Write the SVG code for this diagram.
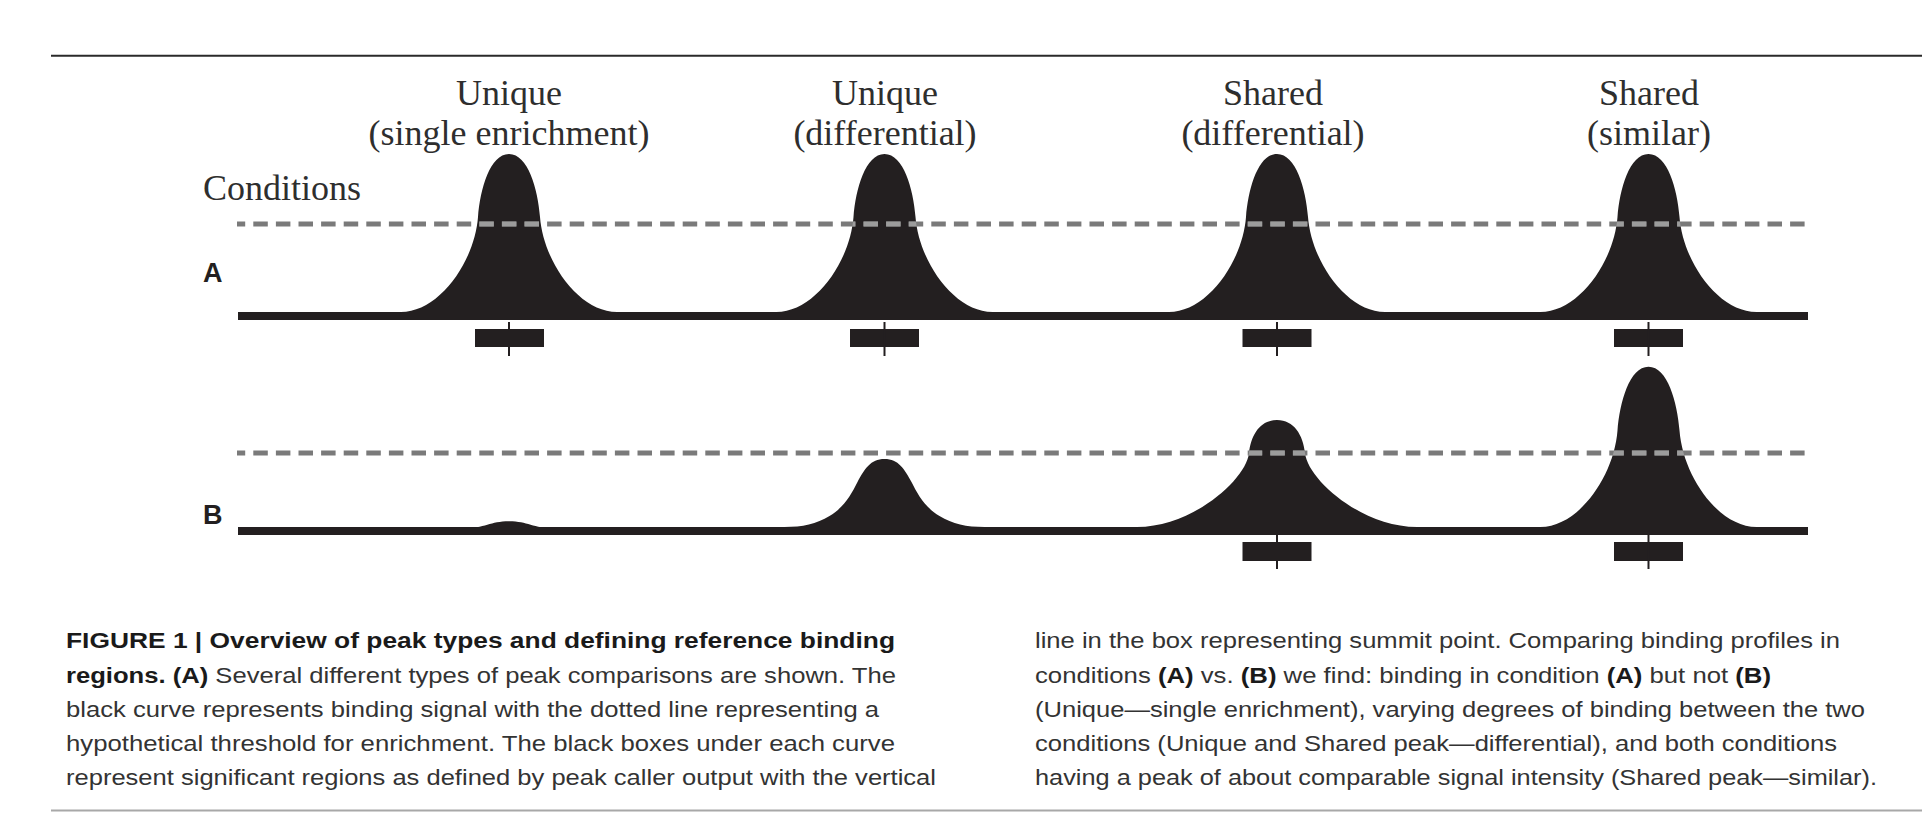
<svg xmlns="http://www.w3.org/2000/svg" width="1922" height="814" viewBox="0 0 1922 814">
<style>
.hd{font-family:"Liberation Serif","Times New Roman",serif;font-size:36px;fill:#2e2e2e;text-anchor:middle}
.cond{font-family:"Liberation Serif","Times New Roman",serif;font-size:36px;fill:#2e2e2e}
.rowlab{font-family:"Liberation Sans",Arial,sans-serif;font-weight:bold;font-size:27px;fill:#231f20}
.cap{font-family:"Liberation Sans",Arial,sans-serif;font-size:22px;fill:#333333}
.b{font-weight:bold;fill:#1a1a1a}
.pk{fill:#231f20}
.base{stroke:#231f20;stroke-width:8}
.dash{stroke:#7a7a7a;stroke-width:5;stroke-dasharray:14.5 8.1;stroke-dashoffset:6.3;fill:none}
.dashlt{stroke:#9c9c9c}
.box{fill:#231f20}
.tick{stroke:#231f20;stroke-width:2}
.rule{stroke:#2a2a2a;stroke-width:2}
.rule2{stroke:#a8a8a8;stroke-width:2}
</style>
<defs>
<path id="peak" d="M -110,4 L -108,0 C -70,0 -34.5,-50 -31,-95 C -28.8,-123 -19,-158 0,-158 C 19,-158 28.8,-123 31,-95 C 34.5,-50 70,0 108,0 L 110,4 Z"/>
<path id="peakB2" d="M -102,4 L -100,0 C -82,0 -68,-3 -55,-11 C -40,-20 -33,-33 -27,-45 C -20,-58 -14,-68 0,-68 C 14,-68 20,-58 27,-45 C 33,-33 40,-20 55,-11 C 68,-3 82,0 100,0 L 102,4 Z"/>
<path id="peakB3" d="M -142,4 L -140,0 C -85,0 -31,-47 -28,-74 C -26,-92 -17,-107 0,-107 C 17,-107 26,-92 28,-74 C 31,-47 85,0 140,0 L 142,4 Z"/>
<clipPath id="peakclip">
<use href="#peak" transform="translate(509,312)"/>
<use href="#peak" transform="translate(884.5,312)"/>
<use href="#peak" transform="translate(1277,312)"/>
<use href="#peak" transform="translate(1648.5,312)"/>
<use href="#peakB2" transform="translate(884.5,527)"/>
<use href="#peakB3" transform="translate(1277,527)"/>
<use href="#peak" transform="translate(1648.5,527) scale(1,1.015)"/>
</clipPath>
</defs>
<rect width="1922" height="814" fill="#ffffff"/>
<g id="rules">
<line class="rule" x1="51" y1="55.8" x2="1922" y2="55.8"/>
<line class="rule2" x1="51" y1="810.5" x2="1922" y2="810.5"/>
</g>
<g id="headings">
<text class="hd" x="509" y="105">Unique</text>
<text class="hd" x="509" y="145">(single enrichment)</text>
<text class="hd" x="885" y="105">Unique</text>
<text class="hd" x="885" y="145">(differential)</text>
<text class="hd" x="1273" y="105">Shared</text>
<text class="hd" x="1273" y="145">(differential)</text>
<text class="hd" x="1649" y="105">Shared</text>
<text class="hd" x="1649" y="145">(similar)</text>
<text class="cond" x="203" y="200">Conditions</text>
</g>
<g id="row-A">
<text class="rowlab" x="203" y="282">A</text>
<line class="base" x1="238" y1="316" x2="1808" y2="316"/>
<use class="pk" href="#peak" transform="translate(509,312)"/>
<use class="pk" href="#peak" transform="translate(884.5,312)"/>
<use class="pk" href="#peak" transform="translate(1277,312)"/>
<use class="pk" href="#peak" transform="translate(1648.5,312)"/>
<line class="dash" x1="237" y1="224" x2="1808" y2="224"/>
<line class="dash dashlt" x1="237" y1="224" x2="1808" y2="224" clip-path="url(#peakclip)"/>
<rect class="box" x="475" y="329" width="69" height="18"/>
<rect class="box" x="850" y="329" width="69" height="18"/>
<rect class="box" x="1242.5" y="329" width="69" height="18"/>
<rect class="box" x="1614" y="329" width="69" height="18"/>
<line class="tick" x1="509" y1="322" x2="509" y2="356"/>
<line class="tick" x1="884.5" y1="322" x2="884.5" y2="356"/>
<line class="tick" x1="1277" y1="322" x2="1277" y2="356"/>
<line class="tick" x1="1648.5" y1="322" x2="1648.5" y2="356"/>
</g>
<g id="row-B">
<text class="rowlab" x="203" y="524">B</text>
<line class="base" x1="238" y1="531" x2="1808" y2="531"/>
<path class="pk" d="M 462,529 C 486,528 490,521.3 509,521.3 C 528,521.3 532,528 556,529 Z"/>
<use class="pk" href="#peakB2" transform="translate(884.5,527)"/>
<use class="pk" href="#peakB3" transform="translate(1277,527)"/>
<use class="pk" href="#peak" transform="translate(1648.5,527) scale(1,1.015)"/>
<line class="dash" x1="237" y1="453" x2="1808" y2="453"/>
<line class="dash dashlt" x1="237" y1="453" x2="1808" y2="453" clip-path="url(#peakclip)"/>
<rect class="box" x="1242.5" y="542" width="69" height="19"/>
<rect class="box" x="1614" y="542" width="69" height="19"/>
<line class="tick" x1="1277" y1="535" x2="1277" y2="569"/>
<line class="tick" x1="1648.5" y1="535" x2="1648.5" y2="569"/>
</g>
<g id="caption">
<text class="cap b" x="66" y="648" textLength="829" lengthAdjust="spacingAndGlyphs">FIGURE 1 | Overview of peak types and defining reference binding</text>
<text class="cap" x="66" y="682.5" textLength="830" lengthAdjust="spacingAndGlyphs"><tspan class="b">regions. (A)</tspan> Several different types of peak comparisons are shown. The</text>
<text class="cap" x="66" y="717" textLength="813" lengthAdjust="spacingAndGlyphs">black curve represents binding signal with the dotted line representing a</text>
<text class="cap" x="66" y="751" textLength="829" lengthAdjust="spacingAndGlyphs">hypothetical threshold for enrichment. The black boxes under each curve</text>
<text class="cap" x="66" y="785" textLength="870" lengthAdjust="spacingAndGlyphs">represent significant regions as defined by peak caller output with the vertical</text>
<text class="cap" x="1035" y="648" textLength="805" lengthAdjust="spacingAndGlyphs">line in the box representing summit point. Comparing binding profiles in</text>
<text class="cap" x="1035" y="682.5" textLength="736" lengthAdjust="spacingAndGlyphs">conditions <tspan class="b">(A)</tspan> vs. <tspan class="b">(B)</tspan> we find: binding in condition <tspan class="b">(A)</tspan> but not <tspan class="b">(B)</tspan></text>
<text class="cap" x="1035" y="717" textLength="830" lengthAdjust="spacingAndGlyphs">(Unique—single enrichment), varying degrees of binding between the two</text>
<text class="cap" x="1035" y="751" textLength="802" lengthAdjust="spacingAndGlyphs">conditions (Unique and Shared peak—differential), and both conditions</text>
<text class="cap" x="1035" y="785" textLength="842" lengthAdjust="spacingAndGlyphs">having a peak of about comparable signal intensity (Shared peak—similar).</text>
</g>
</svg>
